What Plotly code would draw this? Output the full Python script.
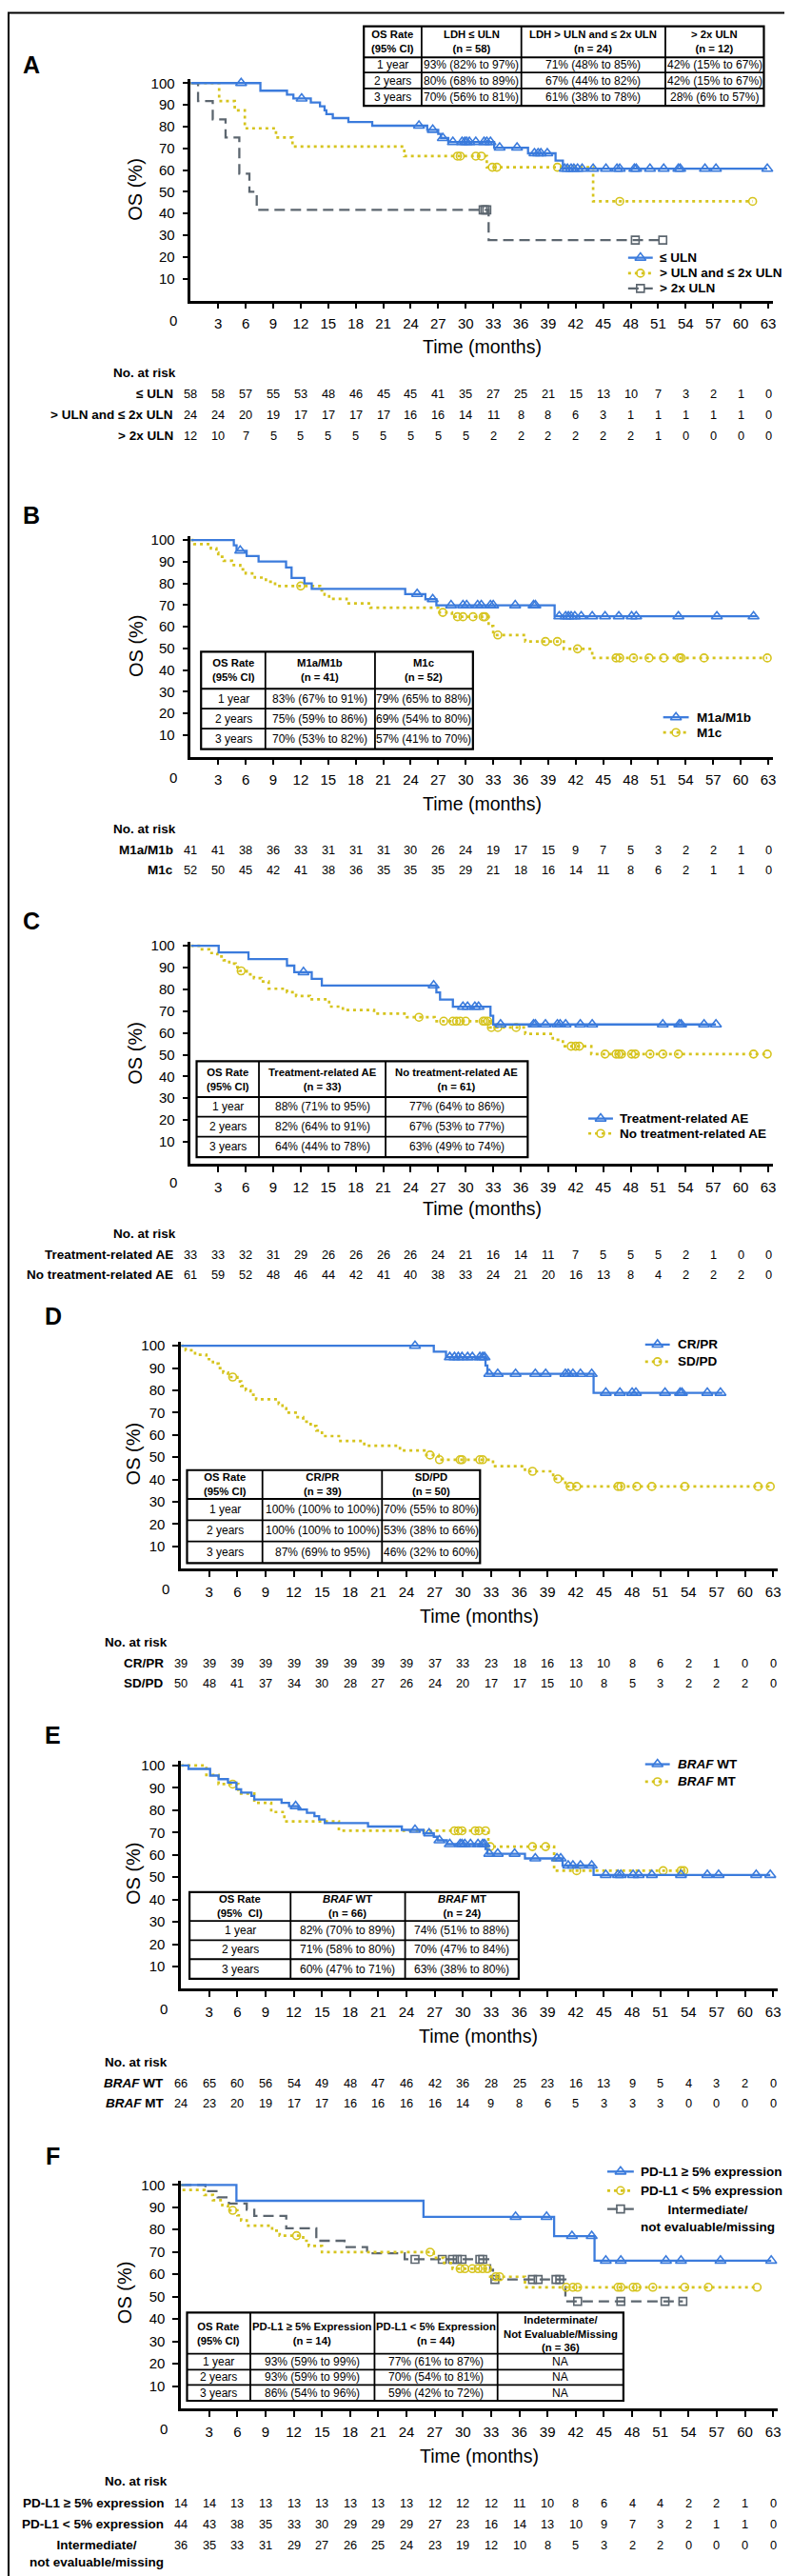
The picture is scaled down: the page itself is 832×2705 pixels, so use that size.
import plotly.graph_objects as go

# ====================== DATA ======================
MONTHS = list(range(0, 64, 3))
YTICKS = list(range(10, 101, 10))

# ---- Panel A: LDH ----
A_LEGEND = ["≤ ULN", "> ULN and ≤ 2x ULN", "> 2x ULN"]
A_LE_T = [7.6, 10.5, 11.2, 13.1, 14.1, 14.6, 14.8, 15.5, 17.2, 19.8, 25.8, 27.0, 27.3, 28.1, 33.1, 36.8, 39.8, 40.6]
A_LE_S = [96.5, 94.7, 92.9, 91.1, 89.3, 87.5, 85.7, 83.9, 82.1, 80.4, 78.5, 76.6, 74.7, 72.9, 70.3, 67.7, 64.4, 60.6]
A_LE_C = [5.5, 12.1, 24.9, 26.4, 27.5, 28.6, 29.6, 29.9, 30.1, 30.4, 31.1, 32.0, 32.3, 32.7, 33.7, 35.6, 37.5, 37.9,
          38.2, 38.9, 40.8, 41.1, 41.5, 41.8, 42.2, 42.7, 43.9, 45.3, 46.5, 46.8, 48.4, 48.6, 50.1, 51.6, 53.2, 53.4,
          56.1, 57.3, 62.9]
A_LE_END = 62.9
A_MID_T = [3.1, 4.8, 5.9, 9.3, 11.1, 23.3, 32.3, 43.9]
A_MID_S = [91.7, 87.5, 79.2, 75.0, 70.8, 66.4, 61.3, 45.6]
A_MID_C = [29.1, 29.4, 31.1, 31.7, 32.9, 33.4, 40.0, 46.8, 61.3]
A_MID_END = 61.3
A_HI_T = [0.8, 2.4, 3.8, 5.3, 6.4, 7.2, 32.5]
A_HI_S = [91.7, 83.3, 75.0, 58.3, 50.0, 41.7, 27.8]
A_HI_C = [31.9, 32.1, 32.3, 48.5, 51.5]
A_HI_END = 51.5
A_TABLE_HEAD = ["OS Rate<br>(95% CI)", "LDH ≤ ULN<br>(n = 58)", "LDH > ULN and ≤ 2x ULN<br>(n = 24)", "> 2x ULN<br>(n = 12)"]
A_TABLE_ROWS = [["1 year", "93% (82% to 97%)", "71% (48% to 85%)", "42% (15% to 67%)"],
                ["2 years", "80% (68% to 89%)", "67% (44% to 82%)", "42% (15% to 67%)"],
                ["3 years", "70% (56% to 81%)", "61% (38% to 78%)", "28% (6% to 57%)"]]
A_RISK_LABELS = ["≤ ULN", "> ULN and ≤ 2x ULN", "> 2x ULN"]
A_RISK_1 = [58, 58, 57, 55, 53, 48, 46, 45, 45, 41, 35, 27, 25, 21, 15, 13, 10, 7, 3, 2, 1, 0]
A_RISK_2 = [24, 24, 20, 19, 17, 17, 17, 17, 16, 16, 14, 11, 8, 8, 6, 3, 1, 1, 1, 1, 1, 0]
A_RISK_3 = [12, 10, 7, 5, 5, 5, 5, 5, 5, 5, 5, 2, 2, 2, 2, 2, 2, 1, 0, 0, 0, 0]

# ---- Panel B: M stage ----
B_LEGEND = ["M1a/M1b", "M1c"]
B_AB_T = [4.7, 5.0, 6.1, 7.4, 10.4, 11.0, 12.4, 13.2, 23.4, 25.6, 26.8, 39.7]
B_AB_S = [97.6, 95.1, 92.6, 90.1, 87.4, 82.5, 80.0, 77.5, 75.1, 72.7, 69.9, 64.8]
B_AB_C = [5.4, 24.7, 26.4, 28.4, 29.7, 30.1, 31.3, 31.7, 32.7, 33.0, 35.4, 37.4, 37.6, 40.2, 40.9, 41.2, 41.5, 41.9,
          42.6, 43.8, 45.2, 46.7, 48.1, 48.6, 53.2, 57.4, 61.4]
B_AB_END = 61.8
B_C_T = [0.4, 2.2, 2.8, 3.0, 3.6, 4.5, 5.4, 6.0, 7.0, 8.2, 9.2, 14.1, 14.6, 15.1, 17.0, 19.6, 27.0, 28.5, 32.5, 33.0,
         36.5, 40.7, 43.8]
B_C_S = [98.1, 96.2, 94.2, 92.3, 90.4, 88.5, 86.5, 84.6, 82.7, 80.8, 78.8, 76.8, 74.8, 72.9, 70.8, 68.8, 66.6, 64.6,
         60.3, 56.2, 53.2, 49.8, 45.6]
B_C_C = [12.0, 27.5, 29.1, 29.7, 30.8, 31.9, 32.1, 33.5, 38.7, 40.0, 42.2, 46.4, 46.8, 48.3, 50.0, 51.6, 53.3, 53.5,
         56.0, 62.9]
B_C_END = 62.9
B_TABLE_HEAD = ["OS Rate<br>(95% CI)", "M1a/M1b<br>(n = 41)", "M1c<br>(n = 52)"]
B_TABLE_ROWS = [["1 year", "83% (67% to 91%)", "79% (65% to 88%)"],
                ["2 years", "75% (59% to 86%)", "69% (54% to 80%)"],
                ["3 years", "70% (53% to 82%)", "57% (41% to 70%)"]]
B_RISK_LABELS = ["M1a/M1b", "M1c"]
B_RISK_1 = [41, 41, 38, 36, 33, 31, 31, 31, 30, 26, 24, 19, 17, 15, 9, 7, 5, 3, 2, 2, 1, 0]
B_RISK_2 = [52, 50, 45, 42, 41, 38, 36, 35, 35, 35, 29, 21, 18, 16, 14, 11, 8, 6, 2, 1, 1, 0]

# ---- Panel C: treatment-related AE ----
C_LEGEND = ["Treatment-related AE", "No treatment-related AE"]
C_TR_T = [3.05, 6.3, 10.5, 11.3, 13.2, 14.3, 26.8, 27.2, 28.6, 32.7, 33.0]
C_TR_S = [97.0, 93.9, 90.9, 87.9, 84.8, 81.8, 78.6, 75.3, 72.0, 67.9, 63.9]
C_TR_C = [12.3, 26.5, 29.7, 30.2, 31.0, 31.4, 33.8, 37.4, 37.6, 38.7, 40.0, 40.3, 40.9, 42.5, 43.8, 51.5, 53.3, 53.5,
          56.0, 57.3]
C_TR_END = 57.3
C_NO_T = [0.9, 2.0, 2.9, 3.6, 4.2, 4.9, 5.3, 6.1, 6.9, 7.7, 8.5, 10.5, 11.5, 13.0, 15.1, 16.6, 20.0, 23.6, 26.6, 32.6,
          36.5, 39.5, 40.6, 43.7]
C_NO_S = [98.4, 96.7, 95.1, 93.4, 91.8, 90.2, 88.5, 86.9, 85.2, 83.6, 80.3, 78.7, 77.0, 75.4, 72.1, 70.5, 68.9, 67.2,
          65.4, 62.5, 59.6, 56.8, 53.9, 50.3]
C_NO_C = [5.5, 24.9, 27.6, 28.6, 29.0, 29.4, 30.0, 31.9, 32.1, 32.4, 32.8, 33.5, 35.5, 41.5, 42.0, 42.4, 45.2, 46.4,
          46.7, 47.0, 48.1, 48.5, 50.1, 51.5, 53.2, 61.4, 62.9]
C_NO_END = 62.9
C_TABLE_HEAD = ["OS Rate<br>(95% CI)", "Treatment-related AE<br>(n = 33)", "No treatment-related AE<br>(n = 61)"]
C_TABLE_ROWS = [["1 year", "88% (71% to 95%)", "77% (64% to 86%)"],
                ["2 years", "82% (64% to 91%)", "67% (53% to 77%)"],
                ["3 years", "64% (44% to 78%)", "63% (49% to 74%)"]]
C_RISK_LABELS = ["Treatment-related AE", "No treatment-related AE"]
C_RISK_1 = [33, 33, 32, 31, 29, 26, 26, 26, 26, 24, 21, 16, 14, 11, 7, 5, 5, 5, 2, 1, 0, 0]
C_RISK_2 = [61, 59, 52, 48, 46, 44, 42, 41, 40, 38, 33, 24, 21, 20, 16, 13, 8, 4, 2, 2, 2, 0]

# ---- Panel D: response ----
D_LEGEND = ["CR/PR", "SD/PD"]
D_CR_T = [26.9, 28.2, 32.4, 32.6, 43.9]
D_CR_S = [97.4, 94.9, 91.2, 87.4, 78.9]
D_CR_C = [24.9, 28.6, 29.1, 29.5, 29.9, 30.5, 31.0, 31.8, 32.1, 32.3, 32.8, 33.7, 35.6, 37.7, 38.8, 40.9, 41.2, 41.7,
          42.5, 43.7, 45.2, 46.7, 48.0, 48.4, 51.5, 53.1, 53.3, 56.0, 57.4]
D_CR_END = 57.6
D_SD_T = [0.5, 1.5, 2.7, 3.4, 4.0, 4.5, 5.0, 6.0, 6.4, 6.9, 7.4, 8.0, 10.4, 10.8, 11.2, 12.2, 13.0, 13.8, 14.4, 15.0,
          16.8, 19.5, 23.3, 25.9, 27.4, 33.2, 36.6, 39.6, 40.9]
D_SD_S = [98, 96, 94, 92, 90, 88, 86, 84, 82, 80, 78, 76, 74, 72, 70, 68, 66, 64, 62, 59.5, 57.3, 55.2, 53.0, 51.0,
          48.9, 46.0, 43.7, 40.3, 36.9]
D_SD_C = [5.5, 26.5, 27.5, 29.7, 29.9, 31.8, 32.1, 37.4, 40.1, 41.4, 42.1, 46.5, 46.8, 48.5, 50.1, 53.6, 61.4, 62.7]
D_SD_END = 62.7
D_TABLE_HEAD = ["OS Rate<br>(95% CI)", "CR/PR<br>(n = 39)", "SD/PD<br>(n = 50)"]
D_TABLE_ROWS = [["1 year", "100% (100% to 100%)", "70% (55% to 80%)"],
                ["2 years", "100% (100% to 100%)", "53% (38% to 66%)"],
                ["3 years", "87% (69% to 95%)", "46% (32% to 60%)"]]
D_RISK_LABELS = ["CR/PR", "SD/PD"]
D_RISK_1 = [39, 39, 39, 39, 39, 39, 39, 39, 39, 37, 33, 23, 18, 16, 13, 10, 8, 6, 2, 1, 0, 0]
D_RISK_2 = [50, 48, 41, 37, 34, 30, 28, 27, 26, 24, 20, 17, 17, 15, 10, 8, 5, 3, 2, 2, 2, 0]

# ---- Panel E: BRAF ----
E_LEGEND = ["<i>BRAF</i> WT", "<i>BRAF</i> MT"]
E_WT_T = [0.8, 3.1, 4.0, 5.0, 5.9, 6.4, 7.5, 7.8, 10.7, 11.5, 12.5, 13.4, 14.2, 14.7, 15.3, 19.9, 23.5, 25.8, 26.9,
          27.3, 28.3, 32.4, 32.6, 36.6, 40.6, 43.9]
E_WT_S = [98.5, 95.5, 93.9, 92.4, 89.4, 87.9, 86.4, 84.8, 83.3, 81.8, 80.3, 78.8, 77.3, 75.8, 74.2, 72.7, 71.2, 69.6,
          68.1, 66.5, 64.8, 62.6, 60.5, 58.4, 55.2, 51.0]
E_WT_C = [12.2, 24.9, 26.4, 27.5, 28.6, 29.7, 29.9, 30.2, 30.8, 31.6, 32.1, 32.3, 32.8, 33.7, 35.5, 37.7, 40.0, 40.4,
          41.2, 41.7, 42.5, 43.7, 45.2, 46.5, 46.8, 48.1, 48.7, 50.1, 53.2, 56.0, 57.2, 61.2, 62.7]
E_WT_END = 62.7
E_MT_T = [2.7, 4.0, 6.1, 7.8, 9.6, 11.0, 16.8, 32.7, 39.7]
E_MT_S = [95.8, 91.7, 87.5, 83.3, 79.2, 75.0, 70.8, 63.7, 52.9]
E_MT_C = [5.5, 29.1, 29.5, 29.9, 31.3, 31.7, 32.4, 32.9, 37.4, 38.8, 42.1, 51.3, 53.2, 53.5]
E_MT_END = 53.5
E_TABLE_HEAD = ["OS Rate<br>(95%  CI)", "<i>BRAF</i> WT<br>(n = 66)", "<i>BRAF</i> MT<br>(n = 24)"]
E_TABLE_ROWS = [["1 year", "82% (70% to 89%)", "74% (51% to 88%)"],
                ["2 years", "71% (58% to 80%)", "70% (47% to 84%)"],
                ["3 years", "60% (47% to 71%)", "63% (38% to 80%)"]]
E_RISK_LABELS = ["<i>BRAF</i> WT", "<i>BRAF</i> MT"]
E_RISK_1 = [66, 65, 60, 56, 54, 49, 48, 47, 46, 42, 36, 28, 25, 23, 16, 13, 9, 5, 4, 3, 2, 0]
E_RISK_2 = [24, 23, 20, 19, 17, 17, 16, 16, 16, 16, 14, 9, 8, 6, 5, 3, 3, 3, 0, 0, 0, 0]

# ---- Panel F: PD-L1 ----
F_LEGEND = ["PD-L1 ≥ 5% expression", "PD-L1 < 5% expression", "Intermediate/<br>not evaluable/missing"]
F_HI_T = [5.9, 25.8, 39.7, 44.0]
F_HI_S = [92.9, 85.7, 77.1, 66.1]
F_HI_C = [35.6, 38.9, 41.6, 43.7, 45.2, 46.8, 51.6, 53.2, 57.4, 62.8]
F_HI_END = 62.8
F_LO_T = [0.3, 2.5, 3.4, 4.4, 5.0, 6.0, 6.4, 7.0, 9.7, 10.5, 13.0, 13.6, 15.0, 26.9, 28.0, 28.9, 32.9, 36.6]
F_LO_S = [97.7, 95.5, 93.2, 90.9, 88.6, 86.4, 84.1, 81.8, 79.5, 77.3, 75.0, 72.7, 69.9, 67.4, 65.0, 62.5, 58.9, 54.2]
F_LO_C = [5.5, 12.3, 26.5, 29.7, 30.2, 31.0, 31.6, 32.1, 32.6, 33.5, 33.9, 41.0, 41.7, 42.2, 46.5, 46.8, 48.1, 48.5,
          50.2, 53.6, 56.1, 61.3]
F_LO_END = 61.3
F_IND_T = [2.6, 3.9, 5.1, 7.0, 7.8, 11.2, 14.4, 17.4, 19.8, 23.8, 32.9, 33.2, 40.9]
F_IND_S = [97.2, 94.4, 91.7, 88.9, 86.1, 80.6, 75.0, 72.2, 69.4, 66.7, 62.0, 57.7, 47.9]
F_IND_C = [24.9, 27.8, 28.9, 29.4, 29.9, 31.8, 32.1, 33.4, 37.4, 38.0, 39.9, 40.3, 42.2, 46.8, 51.5, 53.4]
F_IND_END = 53.4
F_TABLE_HEAD = ["OS Rate<br>(95% CI)", "PD-L1 ≥ 5% Expression<br>(n = 14)", "PD-L1 < 5% Expression<br>(n = 44)",
                "Indeterminate/<br>Not Evaluable/Missing<br>(n = 36)"]
F_TABLE_ROWS = [["1 year", "93% (59% to 99%)", "77% (61% to 87%)", "NA"],
                ["2 years", "93% (59% to 99%)", "70% (54% to 81%)", "NA"],
                ["3 years", "86% (54% to 96%)", "59% (42% to 72%)", "NA"]]
F_RISK_LABELS = ["PD-L1 ≥ 5% expression", "PD-L1 < 5% expression", "Intermediate/<br>not evaluable/missing"]
F_RISK_1 = [14, 14, 13, 13, 13, 13, 13, 13, 13, 12, 12, 12, 11, 10, 8, 6, 4, 4, 2, 2, 1, 0]
F_RISK_2 = [44, 43, 38, 35, 33, 30, 29, 29, 29, 27, 23, 16, 14, 13, 10, 9, 7, 3, 2, 1, 1, 0]
F_RISK_3 = [36, 35, 33, 31, 29, 27, 26, 25, 24, 23, 19, 12, 10, 8, 5, 3, 2, 2, 0, 0, 0, 0]

# ====================== STYLE / LAYOUT ======================
W, H = 832, 2705
FONT = "Liberation Sans, Arial, Helvetica, sans-serif"
STY = {
    "blue": dict(color="#3b7bdc", dash="solid", width=2.3, symbol="triangle-up-open", size=10),
    "gold": dict(color="#d6c41e", dash="3px,4px", width=2.7, symbol="circle-open", size=8),
    "gray": dict(color="#5c666f", dash="11px,6px", width=2.3, symbol="square-open", size=8),
}

PANELS = [
    dict(letter="A", letter_xy=(25, 56), xpx=(193.3, 807.7), ypx=(304.0, 70.8),
         ytitle=(135, 186.7), xtitle=(500.5, 353), zero=(175, 325),
         curves=[(A_HI_T, A_HI_S, A_HI_C, A_HI_END, "gray"),
                 (A_MID_T, A_MID_S, A_MID_C, A_MID_END, "gold"),
                 (A_LE_T, A_LE_S, A_LE_C, A_LE_END, "blue")],
         legend=dict(x0=655, x1=681, tx=686, ys=[259, 275.3, 291.3], labels=A_LEGEND, styles=["blue", "gold", "gray"]),
         table=dict(xs=[376, 437, 542.3, 694.3, 798.3], ys=[15.7, 48.3, 64.3, 81, 99.3], head=A_TABLE_HEAD, rows=A_TABLE_ROWS),
         risk=dict(hx=110, hy=380, lx=176.7, ys=[401.7, 424, 445.7], labels=A_RISK_LABELS, rows=[A_RISK_1, A_RISK_2, A_RISK_3])),
    dict(letter="B", letter_xy=(25.5, 530), xpx=(193.3, 807.7), ypx=(783.8, 551.4),
         ytitle=(135, 666.7), xtitle=(500.5, 833), zero=(175, 806),
         curves=[(B_C_T, B_C_S, B_C_C, B_C_END, "gold"),
                 (B_AB_T, B_AB_S, B_AB_C, B_AB_END, "blue")],
         legend=dict(x0=692, x1=719, tx=725, ys=[742.3, 758.3], labels=B_LEGEND, styles=["blue", "gold"]),
         table=dict(xs=[204.2, 272.1, 387.8, 491.2], ys=[673.3, 712.3, 733.3, 754.3, 775.7], head=B_TABLE_HEAD, rows=B_TABLE_ROWS),
         risk=dict(hx=110, hy=860, lx=176.7, ys=[881.7, 902.7], labels=B_RISK_LABELS, rows=[B_RISK_1, B_RISK_2])),
    dict(letter="C", letter_xy=(25.5, 956.7), xpx=(193.3, 807.7), ypx=(1211.6, 978.1),
         ytitle=(135, 1095), xtitle=(500.5, 1259.3), zero=(175, 1231.7),
         curves=[(C_NO_T, C_NO_S, C_NO_C, C_NO_END, "gold"),
                 (C_TR_T, C_TR_S, C_TR_C, C_TR_END, "blue")],
         legend=dict(x0=613, x1=639, tx=644.5, ys=[1164.3, 1180], labels=C_LEGEND, styles=["blue", "gold"]),
         table=dict(xs=[199.5, 265.3, 399, 549], ys=[1104, 1141.7, 1162.3, 1183.3, 1205], head=C_TABLE_HEAD, rows=C_TABLE_ROWS),
         risk=dict(hx=110, hy=1285.7, lx=176.7, ys=[1307.7, 1328.7], labels=C_RISK_LABELS, rows=[C_RISK_1, C_RISK_2])),
    dict(letter="D", letter_xy=(48, 1372), xpx=(183, 813), ypx=(1637.7, 1398.6),
         ytitle=(132.6, 1516.7), xtitle=(498, 1687.3), zero=(167, 1659.3),
         curves=[(D_SD_T, D_SD_S, D_SD_C, D_SD_END, "gold"),
                 (D_CR_T, D_CR_S, D_CR_C, D_CR_END, "blue")],
         legend=dict(x0=673, x1=699, tx=705.5, ys=[1402, 1420], labels=D_LEGEND, styles=["blue", "gold"]),
         table=dict(xs=[189.4, 269, 395.2, 498.7], ys=[1534, 1564.3, 1586.7, 1609, 1631.7], head=D_TABLE_HEAD, rows=D_TABLE_ROWS),
         risk=dict(hx=100, hy=1715, lx=167, ys=[1736.7, 1758.3], labels=D_RISK_LABELS, rows=[D_RISK_1, D_RISK_2])),
    dict(letter="E", letter_xy=(48, 1813), xpx=(183, 813), ypx=(2079.5, 1840.0),
         ytitle=(132.6, 1958), xtitle=(497.3, 2129), zero=(165, 2101),
         curves=[(E_MT_T, E_MT_S, E_MT_C, E_MT_END, "gold"),
                 (E_WT_T, E_WT_S, E_WT_C, E_WT_END, "blue")],
         legend=dict(x0=673, x1=699, tx=705.5, ys=[1843.3, 1861.7], labels=E_LEGEND, styles=["blue", "gold"]),
         table=dict(xs=[192, 298.7, 419.6, 539.5], ys=[1977.7, 2008, 2028.3, 2048.3, 2069], head=E_TABLE_HEAD, rows=E_TABLE_ROWS),
         risk=dict(hx=100, hy=2156.7, lx=167, ys=[2178.3, 2200], labels=E_RISK_LABELS, rows=[E_RISK_1, E_RISK_2])),
    dict(letter="F", letter_xy=(48, 2255), xpx=(183, 813), ypx=(2520.7, 2281.0),
         ytitle=(123, 2398.3), xtitle=(498, 2570.7), zero=(164.5, 2542.7),
         curves=[(F_IND_T, F_IND_S, F_IND_C, F_IND_END, "gray"),
                 (F_LO_T, F_LO_S, F_LO_C, F_LO_END, "gold"),
                 (F_HI_T, F_HI_S, F_HI_C, F_HI_END, "blue")],
         legend=dict(x0=633, x1=661, tx=666, ys=[2271.7, 2291.7, 2311], labels=F_LEGEND, styles=["blue", "gold", "gray"]),
         table=dict(xs=[189.4, 256.2, 387.3, 517.2, 650], ys=[2420, 2463.3, 2480, 2496, 2512.7], head=F_TABLE_HEAD, rows=F_TABLE_ROWS),
         risk=dict(hx=100, hy=2597.7, lx=167, ys=[2620, 2642.7, 2664.3], labels=F_RISK_LABELS, rows=[F_RISK_1, F_RISK_2, F_RISK_3])),
]


def surv_at(t, s, x):
    v = 100.0
    for ti, si in zip(t, s):
        if ti <= x:
            v = si
    return v


fig = go.Figure()
layout = dict(width=W, height=H, margin=dict(l=0, r=0, t=0, b=0), paper_bgcolor="white",
              plot_bgcolor="rgba(0,0,0,0)", showlegend=False, font=dict(family=FONT, color="black"))
shapes, annos = [], []

# full-page pixel overlay axis (for decorations: tables, legends, labels)
layout["xaxis7"] = dict(domain=[0, 1], range=[0, W], visible=False, fixedrange=True, anchor="y7")
layout["yaxis7"] = dict(domain=[0, 1], range=[H, 0], visible=False, fixedrange=True, anchor="x7")


def pa(text, x, y, size=13, bold=False, xanchor="center", yanchor="middle", family=FONT, angle=0, xref="x7"):
    if bold:
        text = "<b>" + text + "</b>"
    annos.append(dict(text=text, x=x, y=y, xref=xref, yref="y7", showarrow=False, xanchor=xanchor,
                      yanchor=yanchor, textangle=angle, font=dict(size=size, family=family, color="black")))


for i, p in enumerate(PANELS, 1):
    xs = "" if i == 1 else str(i)
    x0p, x1p = p["xpx"]
    ybp, ytp = p["ypx"]
    layout["xaxis" + xs] = dict(domain=[x0p / W, x1p / W], range=[0, 63.5], anchor="y" + xs,
                                tickvals=MONTHS[1:], ticktext=[str(m) for m in MONTHS[1:]],
                                ticks="outside", ticklen=6, tickwidth=1.5, tickcolor="black",
                                showline=True, linecolor="black", linewidth=2.5, showgrid=False, zeroline=False,
                                tickfont=dict(size=15, color="black"), ticklabelstandoff=3, fixedrange=True)
    layout["yaxis" + xs] = dict(domain=[1 - ybp / H, 1 - ytp / H], range=[0, 102], anchor="x" + xs,
                                tickvals=YTICKS, ticks="outside", ticklen=6, tickwidth=1.5, tickcolor="black",
                                showline=True, linecolor="black", linewidth=2.5, showgrid=False, zeroline=False,
                                tickfont=dict(size=15, color="black"), ticklabelstandoff=5, fixedrange=True)

    # KM curves
    for (t, s, c, end, st) in p["curves"]:
        S = STY[st]
        fig.add_trace(go.Scatter(x=[0] + list(t) + [end], y=[100] + list(s) + [s[-1]], mode="lines",
                                 line=dict(shape="hv", color=S["color"], width=S["width"], dash=S["dash"]),
                                 xaxis="x" + xs, yaxis="y" + xs, hoverinfo="skip"))
        fig.add_trace(go.Scatter(x=list(c), y=[surv_at(t, s, ci) for ci in c], mode="markers",
                                 marker=dict(symbol=S["symbol"], size=S["size"], color=S["color"],
                                             line=dict(width=1.6, color=S["color"])),
                                 cliponaxis=False, xaxis="x" + xs, yaxis="y" + xs, hoverinfo="skip"))

    # letters / titles
    pa(p["letter"], *p["letter_xy"], size=25, bold=True)
    pa("OS (%)", *p["ytitle"], size=20, angle=-90)
    pa("Time (months)", *p["xtitle"], size=19.5)
    pa("0", *p["zero"], size=15)

    # legend
    lg = p["legend"]
    for lab, st, yy in zip(lg["labels"], lg["styles"], lg["ys"]):
        S = STY[st]
        fig.add_trace(go.Scatter(x=[lg["x0"], lg["x1"]], y=[yy, yy], mode="lines",
                                 line=dict(color=S["color"], width=S["width"], dash=S["dash"]),
                                 xaxis="x7", yaxis="y7", hoverinfo="skip"))
        fig.add_trace(go.Scatter(x=[(lg["x0"] + lg["x1"]) / 2], y=[yy], mode="markers",
                                 marker=dict(symbol=S["symbol"], size=S["size"], color=S["color"],
                                             line=dict(width=1.6, color=S["color"])),
                                 xaxis="x7", yaxis="y7", hoverinfo="skip"))
        if "<br>" in lab:
            pa(lab, lg["tx"], yy - 9, size=13.5, bold=True, xanchor="left", yanchor="top")
        else:
            pa(lab, lg["tx"], yy, size=13.5, bold=True, xanchor="left")

    # table
    tb = p["table"]
    txs, tys = tb["xs"], tb["ys"]
    shapes.append(dict(type="rect", xref="x7", yref="y7", x0=txs[0], x1=txs[-1], y0=tys[0], y1=tys[-1],
                       fillcolor="white", line=dict(color="black", width=2.2), layer="above"))
    for xv in txs[1:-1]:
        shapes.append(dict(type="line", xref="x7", yref="y7", x0=xv, x1=xv, y0=tys[0], y1=tys[-1],
                           line=dict(color="black", width=1.8)))
    for yv in tys[1:-1]:
        shapes.append(dict(type="line", xref="x7", yref="y7", x0=txs[0], x1=txs[-1], y0=yv, y1=yv,
                           line=dict(color="black", width=1.8)))
    for j, htxt in enumerate(tb["head"]):
        pa(htxt, (txs[j] + txs[j + 1]) / 2, (tys[0] + tys[1]) / 2, size=11.3, bold=True)
    for r, row in enumerate(tb["rows"]):
        for j, ctxt in enumerate(row):
            pa(ctxt, (txs[j] + txs[j + 1]) / 2, (tys[r + 1] + tys[r + 2]) / 2, size=12)

    # numbers at risk
    rk = p["risk"]
    pa("No. at risk", rk["hx"], rk["hy"], size=13.5, bold=True, xanchor="left")
    for lab, row, yy in zip(rk["labels"], rk["rows"], rk["ys"]):
        if "<br>" in lab:
            pa(lab, rk["lx"], yy - 9, size=13.5, bold=True, xanchor="right", yanchor="top")
        else:
            pa(lab, rk["lx"], yy, size=13.5, bold=True, xanchor="right")
        for m, n in zip(MONTHS, row):
            pa(str(n), m, yy, size=12.8, xref="x" + xs)

# outer frame
shapes.append(dict(type="rect", xref="x7", yref="y7", x0=1, x1=W - 1, y0=1.5, y1=H - 1.5,
                   line=dict(color="black", width=2), layer="above"))

layout["shapes"] = shapes
layout["annotations"] = annos
fig.update_layout(**layout)
fig.write_html("out.html")
